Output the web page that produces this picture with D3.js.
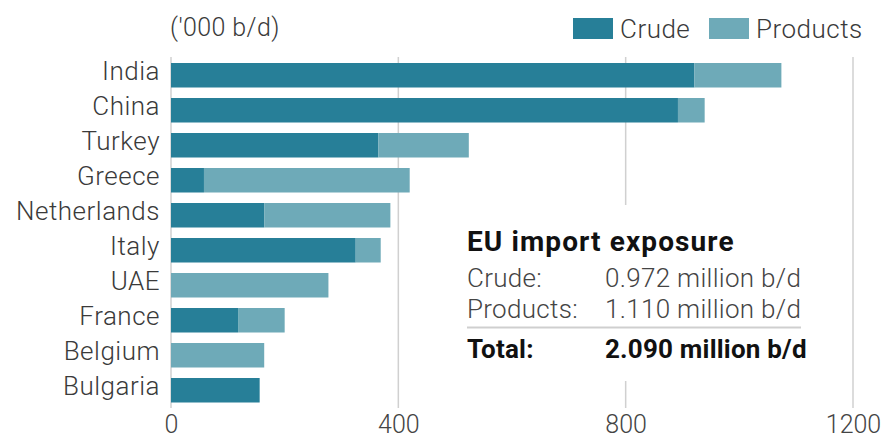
<!DOCTYPE html>
<html>
<head lang="en">
    <meta charset="UTF-8">
    <title></title>
    <script src="https://cdn.jsdelivr.net/npm/d3@7/dist/d3.min.js" charset="UTF-8"></script>
    <style>
        body{margin:0;background:#fff;}
        text{font-family:Roboto,"Noto Sans",sans-serif;}
    </style>
</head>
<body>
<script>
    var countries=['India','China','Turkey','Greece','Netherlands','Italy','UAE','France','Belgium','Bulgaria'];
    var crude=[921,892,365,58,164,325,0,118,0,156];
    var products=[153,47,159,362,222,44,277,82,164,0];
    var xticks=[0,400,800,1200];
    var seriesNames=['Crude','Products'];
    var summaryRows=[['Crude:','0.972 million b/d'],['Products:','1.110 million b/d']];
    var summaryTotal=['Total:','2.090 million b/d'];

    var colors={Crude:'#277f98',Products:'#6eaab8'};
    var W=884,H=438;

    var _svg=d3.select("body").append("svg")
            .attr("width",W)
            .attr("height",H);

    var _x=d3.scaleLinear().domain([0,1200]).range([171,853]);
    var _y=d3.scaleBand().domain(countries)
            .range([57.75,407.75])
            .paddingInner(0.3)
            .paddingOuter(0.15);

    // grid lines
    var _grid=_svg.append("g").attr("id","grid");
    _grid.selectAll("line").data(xticks).enter().append("line")
            .attr("x1",function(d){return _x(d);})
            .attr("x2",function(d){return _x(d);})
            .attr("y1",57)
            .attr("y2",408)
            .attr("stroke","#d0d0d0")
            .attr("stroke-width",1.5);

    // stacked bars
    var rows=countries.map(function(c,i){return {country:c,Crude:crude[i],Products:products[i]};});
    var stacked=d3.stack().keys(seriesNames)(rows);
    _svg.append("g").selectAll("g").data(stacked).enter().append("g")
            .attr("fill",function(d){return colors[d.key];})
            .selectAll("rect").data(function(d){return d.filter(function(p){return p[1]>p[0];});})
            .enter().append("rect")
            .attr("x",function(d){return _x(d[0]);})
            .attr("y",function(d){return _y(d.data.country);})
            .attr("width",function(d){return _x(d[1])-_x(d[0]);})
            .attr("height",_y.bandwidth());

    // country labels
    var _yaxis=d3.axisLeft(_y).tickSize(0).tickPadding(0);
    var _gy=_svg.append("g").attr("transform","translate(160,0)").call(_yaxis);
    _gy.select(".domain").remove();
    _gy.selectAll("text")
            .attr("fill","#3a3a3a")
            .style("font-size","26px")
            .style("font-weight","300")
            .style("letter-spacing","0.5px")
            .attr("dy","0.2em");

    // x axis labels
    var _xaxis=d3.axisBottom(_x).tickValues(xticks).tickFormat(d3.format("d")).tickSize(0).tickPadding(0);
    var _gx=_svg.append("g").attr("transform","translate(0,407)").call(_xaxis);
    _gx.select(".domain").remove();
    _gx.selectAll("text")
            .attr("fill","#444")
            .attr("dy","1.03em")
            .style("font-size","25px")
            .style("font-weight","300");

    // unit label
    _svg.append("text")
            .attr("x",170).attr("y",36)
            .attr("fill","#3a3a3a")
            .style("font-size","25px")
            .style("font-weight","300")
            .style("letter-spacing","0.4px")
            .text("('000 b/d)");

    // legend
    var legendX=[573,709];
    var _leg=_svg.append("g").selectAll("g").data(seriesNames).enter().append("g")
            .attr("transform",function(d,i){return "translate("+legendX[i]+",18)";});
    _leg.append("rect")
            .attr("width",40).attr("height",21)
            .attr("fill",function(d){return colors[d];});
    _leg.append("text")
            .attr("x",47).attr("y",20)
            .attr("fill","#3a3a3a")
            .style("font-size","26px")
            .style("font-weight","300")
            .style("letter-spacing","0.5px")
            .text(function(d){return d;});

    // summary box
    var _box=_svg.append("g");
    _box.append("rect")
            .attr("x",455).attr("y",205)
            .attr("width",360).attr("height",176)
            .attr("fill","#fff");
    _box.append("text")
            .attr("x",467).attr("y",251)
            .attr("fill","#111")
            .style("font-size","28px")
            .style("font-weight","700")
            .style("letter-spacing","1.1px")
            .text("EU import exposure");
    summaryRows.forEach(function(r,i){
        var yy=287+i*31;
        _box.append("text").attr("x",467).attr("y",yy)
                .attr("fill","#444").style("font-size","26px").style("font-weight","300")
                .style("letter-spacing","0.3px")
                .text(r[0]);
        _box.append("text").attr("x",605).attr("y",yy)
                .attr("fill","#444").style("font-size","26px").style("font-weight","300")
                .style("letter-spacing","0.3px")
                .text(r[1]);
    });
    _box.append("line")
            .attr("x1",467).attr("x2",801)
            .attr("y1",327.5).attr("y2",327.5)
            .attr("stroke","#cfcfcf").attr("stroke-width",2);
    _box.append("text").attr("x",467).attr("y",358)
            .attr("fill","#111").style("font-size","26px").style("font-weight","700")
            .style("letter-spacing","0.2px")
            .text(summaryTotal[0]);
    _box.append("text").attr("x",605).attr("y",358)
            .attr("fill","#111").style("font-size","26px").style("font-weight","700")
            .style("letter-spacing","0.2px")
            .text(summaryTotal[1]);
</script>
</body>
</html>
